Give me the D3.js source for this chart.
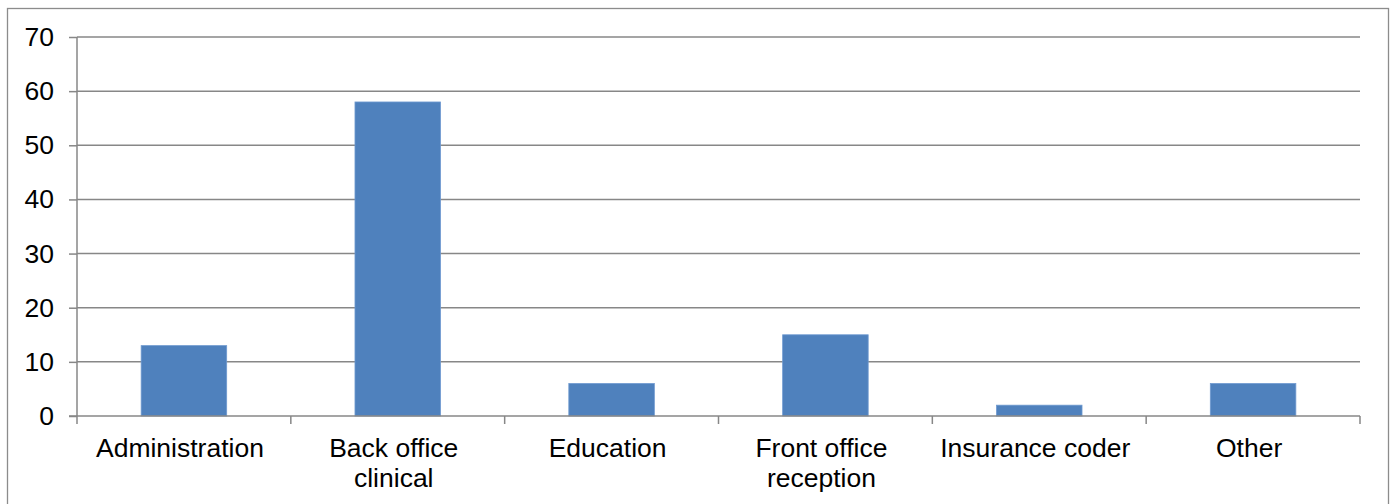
<!DOCTYPE html>
<html><head><meta charset="utf-8">
<script src="https://cdn.jsdelivr.net/npm/d3@7/dist/d3.min.js"></script>
<style>body{margin:0;background:#fff}svg{display:block}text{font-family:"Liberation Sans",Arial,sans-serif}</style>
</head><body><svg id="c" width="1396" height="504"></svg>
<script>
const categories = [["Administration"],["Back office","clinical"],["Education"],["Front office","reception"],["Insurance coder"],["Other"]];
const values = [13,58,6,15,2,6];
const yTicks = [0,10,20,30,40,50,60,70];

const svg = d3.select("#c");
const W=1396,H=504;
const m={left:77,right:1360,top:37,bottom:416};
svg.append("rect").attr("x",7.5).attr("y",8.5).attr("width",1381).attr("height",520)
  .attr("fill","#fff").attr("stroke","#8c8c8c").attr("stroke-width",1.3);

const x = d3.scaleBand().domain(d3.range(categories.length)).range([m.left,m.right]).padding(0);
const y = d3.scaleLinear().domain([0,70]).range([m.bottom,m.top]);
const grey="#878787";

// gridlines
svg.append("g").selectAll("line").data(yTicks.filter(d=>d>0)).join("line")
  .attr("x1",m.left).attr("x2",m.right).attr("y1",d=>y(d)).attr("y2",d=>y(d))
  .attr("stroke",grey).attr("stroke-width",1.5);

// bars
const bw = x.bandwidth()*0.4;
svg.append("g").selectAll("rect").data(values).join("rect")
  .attr("x",(d,i)=>x(i)+x.bandwidth()/2-bw/2).attr("width",bw)
  .attr("y",d=>y(d)).attr("height",d=>y(0)-y(d))
  .attr("fill","#4f81bd").attr("stroke","#6f9ad0").attr("stroke-width",0.8);

// y axis
const ya = svg.append("g").attr("transform",`translate(${m.left},0)`)
  .call(d3.axisLeft(y).tickValues(yTicks).tickSize(8).tickPadding(15).tickFormat(d3.format("d")));
ya.select(".domain").attr("stroke",grey).attr("stroke-width",1.5).attr("d",`M0,${m.top}V${m.bottom}`);
ya.selectAll(".tick line").attr("stroke",grey).attr("stroke-width",1.5);
ya.selectAll(".tick text").attr("font-size",26.5).attr("fill","#000").attr("font-family","Liberation Sans, Arial, sans-serif");

// x axis
const xa = svg.append("g").attr("transform",`translate(0,${m.bottom})`);
xa.append("line").attr("x1",m.left-8).attr("x2",m.right).attr("y1",0).attr("y2",0).attr("stroke",grey).attr("stroke-width",1.5);
const bounds = d3.range(categories.length+1).map(i=> i<categories.length? x(i): m.right);
xa.selectAll("line.t").data(bounds).join("line").attr("class","t")
  .attr("x1",d=>d).attr("x2",d=>d).attr("y1",0).attr("y2",8).attr("stroke",grey).attr("stroke-width",1.5);
const lab = xa.selectAll("text").data(categories).join("text")
  .attr("text-anchor","middle").attr("font-size",26.5).attr("fill","#000")
  .attr("transform",(d,i)=>`translate(${x(i)+x.bandwidth()/2-4},41)`);
lab.selectAll("tspan").data(d=>d).join("tspan").attr("x",0).attr("dy",(d,i)=>i?30:0).text(d=>d);
</script></body></html>
